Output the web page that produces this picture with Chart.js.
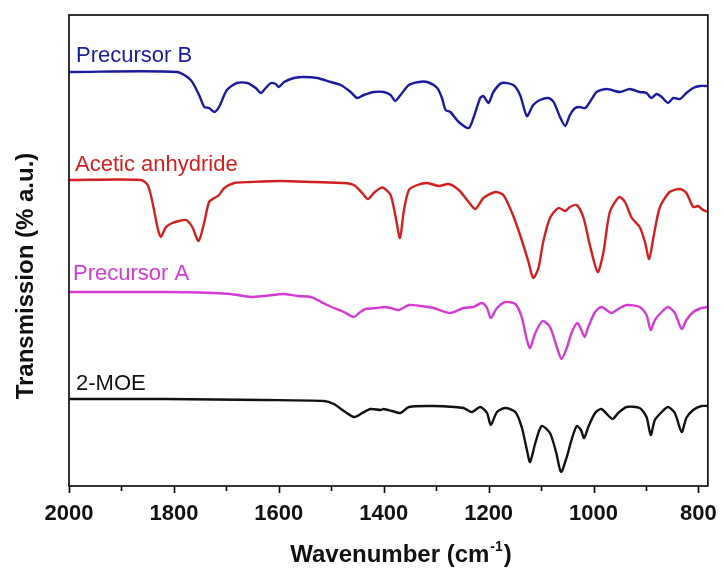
<!DOCTYPE html>
<html>
<head>
<meta charset="utf-8">
<script src="https://cdn.jsdelivr.net/npm/chart.js@4"></script>
<style>
  html, body { margin: 0; padding: 0; background: #fff; }
  #wrap { width: 724px; height: 570px; }
</style>
</head>
<body>
<div id="wrap"><canvas id="irChart"></canvas></div>
<script>
// wavenumber ticks (cm-1), x axis runs from high to low
const tickLabels = [2000, 1800, 1600, 1400, 1200, 1000, 800];
const minorTicks = [1900, 1700, 1500, 1300, 1100, 900];

// Precursor B (offset transmission, arbitrary units)
const precursorBx = [1999, 1794, 1768, 1752, 1742, 1733, 1723, 1714, 1699, 1680, 1660, 1644, 1634, 1625, 1615, 1606, 1600, 1590, 1571, 1552, 1527, 1501, 1482, 1463, 1451, 1438, 1419, 1400, 1387, 1378, 1368, 1352, 1333, 1317, 1298, 1289, 1282, 1273, 1257, 1238, 1229, 1216, 1210, 1200, 1191, 1175, 1153, 1140, 1127, 1115, 1102, 1086, 1076, 1064, 1054, 1045, 1035, 1026, 1016, 1007, 994, 975, 950, 931, 912, 899, 890, 880, 870, 858, 848, 835, 823, 810, 797, 782];
const precursorBy = [414, 414, 406, 391, 379, 378, 374, 379, 396, 403, 403, 398, 393, 398, 403, 402, 399, 404, 408, 409, 408, 404, 401, 394, 388, 391, 394, 394, 391, 385, 391, 401, 404, 404, 398, 388, 376, 374, 364, 358, 368, 388, 390, 383, 394, 403, 401, 391, 370, 381, 386, 388, 384, 369, 360, 371, 378, 379, 378, 384, 394, 397, 394, 397, 394, 393, 388, 392, 389, 383, 388, 387, 393, 398, 400, 400];

// Acetic anhydride
const aceticX = [1999, 1863, 1850, 1841, 1831, 1825, 1815, 1803, 1790, 1777, 1765, 1753, 1742, 1733, 1723, 1714, 1704, 1685, 1653, 1596, 1533, 1476, 1457, 1441, 1430, 1419, 1406, 1400, 1387, 1378, 1369, 1362, 1352, 1336, 1317, 1295, 1276, 1257, 1238, 1225, 1210, 1187, 1172, 1156, 1140, 1124, 1115, 1105, 1096, 1083, 1067, 1054, 1045, 1032, 1019, 1007, 992, 981, 969, 951, 940, 927, 912, 902, 894, 886, 874, 855, 835, 823, 810, 801, 791, 782];
const aceticY = [306, 306, 301, 284, 258, 249, 259, 263, 265, 266, 259, 245, 264, 284, 288, 291, 298, 303, 304, 305, 304, 303, 301, 293, 287, 293, 298, 298, 291, 271, 248, 274, 296, 301, 303, 300, 302, 296, 284, 277, 288, 294, 291, 274, 251, 224, 208, 218, 244, 268, 278, 275, 279, 281, 268, 241, 214, 234, 274, 289, 284, 268, 259, 244, 227, 248, 278, 294, 297, 293, 279, 280, 276, 274];

// Precursor A
const precursorAx = [1999, 1818, 1723, 1692, 1653, 1628, 1590, 1565, 1539, 1508, 1476, 1457, 1447, 1435, 1413, 1400, 1387, 1371, 1352, 1330, 1305, 1273, 1248, 1229, 1213, 1203, 1196, 1184, 1168, 1149, 1137, 1127, 1121, 1111, 1097, 1083, 1070, 1061, 1051, 1042, 1031, 1024, 1017, 1010, 997, 985, 966, 953, 937, 912, 899, 891, 883, 870, 858, 845, 832, 823, 810, 794, 782];
const precursorAy = [194, 194, 193, 192, 189, 190, 192, 190, 189, 181, 174, 169, 173, 177, 178, 179, 178, 176, 181, 180, 178, 173, 178, 179, 183, 178, 168, 178, 184, 182, 169, 146, 138, 153, 165, 159, 139, 127, 138, 153, 163, 157, 149, 159, 174, 179, 173, 177, 181, 179, 171, 156, 166, 174, 179, 173, 157, 166, 174, 178, 179];

// 2-MOE
const moeX = [1999, 1818, 1628, 1514, 1495, 1476, 1456, 1441, 1425, 1406, 1400, 1384, 1368, 1352, 1305, 1248, 1232, 1216, 1203, 1196, 1184, 1168, 1149, 1137, 1127, 1121, 1111, 1099, 1083, 1071, 1062, 1051, 1042, 1032, 1024, 1018, 1010, 997, 985, 964, 953, 937, 912, 899, 891, 883, 870, 858, 845, 832, 823, 810, 794, 782];
const moeY = [87, 87, 86, 85, 82, 75, 69, 73, 77, 76, 77, 75, 73, 79, 80, 78, 74, 79, 73, 61, 74, 78, 74, 59, 36, 24, 43, 60, 53, 33, 14, 29, 46, 60, 56, 48, 59, 73, 77, 67, 73, 79, 78, 69, 51, 66, 74, 79, 73, 54, 68, 76, 80, 80];

const seriesNames = ['Precursor B', 'Acetic anhydride', 'Precursor A', '2-MOE'];
const seriesColors = ['#1a1aa0', '#d21f1f', '#d43ad4', '#111111'];
const labelBaselines = [62, 171, 280, 390];
const labelLeft = [76, 75, 73, 76];

function toPoints(xs, ys) {
  return xs.map((x, i) => ({ x: x, y: ys[i] }));
}

const allX = [precursorBx, aceticX, precursorAx, moeX];
const allY = [precursorBy, aceticY, precursorAy, moeY];

const datasets = seriesNames.map((name, i) => ({
  label: name,
  data: toPoints(allX[i], allY[i]),
  showLine: true,
  borderColor: seriesColors[i],
  borderWidth: 2.4,
  pointRadius: 0,
  tension: 0.25,
  fill: false
}));

// frame, minor ticks, curve names and axis titles
const decorations = {
  id: 'decorations',
  afterDraw(chart) {
    const ctx = chart.ctx;
    const area = chart.chartArea;
    const xs = chart.scales.x;
    ctx.save();

    ctx.strokeStyle = '#000';
    ctx.lineWidth = 1.6;
    ctx.strokeRect(area.left, area.top, area.right - area.left, area.bottom - area.top);

    tickLabels.concat(minorTicks).forEach(v => {
      const px = Math.round(xs.getPixelForValue(v)) + 0.5;
      const len = minorTicks.includes(v) ? 5 : 7;
      ctx.beginPath();
      ctx.moveTo(px, area.bottom);
      ctx.lineTo(px, area.bottom + len);
      ctx.stroke();
    });

    ctx.font = '22px "Liberation Sans", Arial, sans-serif';
    ctx.textBaseline = 'alphabetic';
    ctx.textAlign = 'left';
    seriesNames.forEach((name, i) => {
      ctx.fillStyle = seriesColors[i];
      ctx.fillText(name, labelLeft[i], labelBaselines[i]);
    });

    // x title with superscript
    ctx.fillStyle = '#111';
    const big = 'bold 24px "Liberation Sans", Arial, sans-serif';
    const small = 'bold 14px "Liberation Sans", Arial, sans-serif';
    ctx.font = big;
    const w1 = ctx.measureText('Wavenumber (cm').width;
    const w3 = ctx.measureText(')').width;
    ctx.font = small;
    const w2 = ctx.measureText('-1').width;
    const tx = 401 - (w1 + w2 + w3 + 2) / 2;
    ctx.font = big;
    ctx.fillText('Wavenumber (cm', tx, 562);
    ctx.font = small;
    ctx.fillText('-1', tx + w1 + 1, 551);
    ctx.font = big;
    ctx.fillText(')', tx + w1 + w2 + 2, 562);

    // y title
    ctx.translate(33, 276);
    ctx.rotate(-Math.PI / 2);
    ctx.textAlign = 'center';
    ctx.font = big;
    ctx.fillText('Transmission (% a.u.)', 0, 0);
    ctx.restore();
  }
};

const ctx = document.getElementById('irChart').getContext('2d');
new Chart(ctx, {
  type: 'scatter',
  data: { datasets: datasets },
  options: {
    responsive: true,
    maintainAspectRatio: false,
    animation: false,
    layout: { padding: { left: 69, top: 15, right: 14, bottom: 0 } },
    plugins: {
      legend: { display: false },
      tooltip: { enabled: false }
    },
    scales: {
      x: {
        type: 'linear',
        reverse: true,
        min: 782,
        max: 2000,
        border: { display: false },
        grid: { display: false, drawTicks: true, tickLength: 8 },
        afterBuildTicks: scale => {
          scale.ticks = tickLabels.map(v => ({ value: v }));
        },
        afterFit: scale => { scale.height = 84; },
        ticks: {
          padding: 7,
          maxRotation: 0,
          autoSkip: false,
          color: '#111',
          callback: value => String(value),
          font: { family: '"Liberation Sans", Arial, sans-serif', size: 22, weight: 'bold' }
        }
      },
      y: {
        display: false,
        min: 0,
        max: 471
      }
    }
  },
  plugins: [decorations]
});
</script>
</body>
</html>
